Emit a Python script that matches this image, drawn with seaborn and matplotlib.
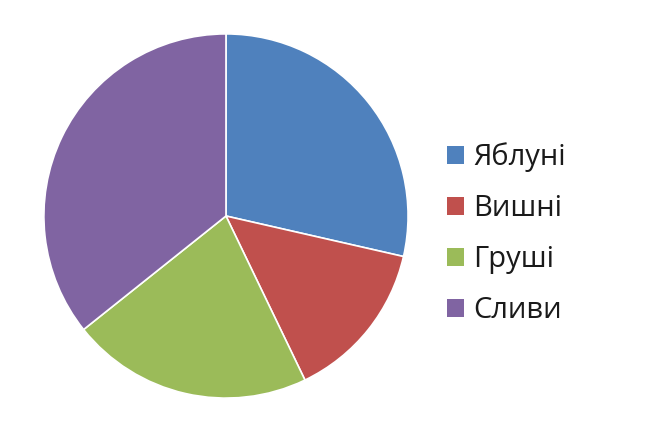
import matplotlib.pyplot as plt
import seaborn as sns
from matplotlib.patches import Patch

sns.set_style('white')
plt.rcParams['font.family'] = ['Open Sans', 'DejaVu Sans']

labels = ['Яблуні', 'Вишні', 'Груші', 'Сливи']
values = [8, 4, 6, 10]
colors = ['#4F81BD', '#C0504D', '#9BBB59', '#8064A2']

fig = plt.figure(figsize=(6.55, 4.22), dpi=100)
ax = fig.add_axes([0.0656, 0.0545, 0.5588, 0.8673])
ax.pie(values, colors=colors, startangle=90, counterclock=False,
       wedgeprops=dict(edgecolor='white', linewidth=1.2))
ax.set_xlim(-1.005, 1.005)
ax.set_ylim(-1.005, 1.005)
ax.set_aspect('equal')

handles = [Patch(facecolor=c, edgecolor='none') for c in colors]
fig.legend(handles, labels, loc='center left', bbox_to_anchor=(0.643, 0.446),
           frameon=False, fontsize=21, handlelength=0.58, handleheight=0.58,
           handletextpad=0.3, labelspacing=0.76, labelcolor='#1a1a1a')

fig.savefig('out.png', dpi=100, facecolor='white')
